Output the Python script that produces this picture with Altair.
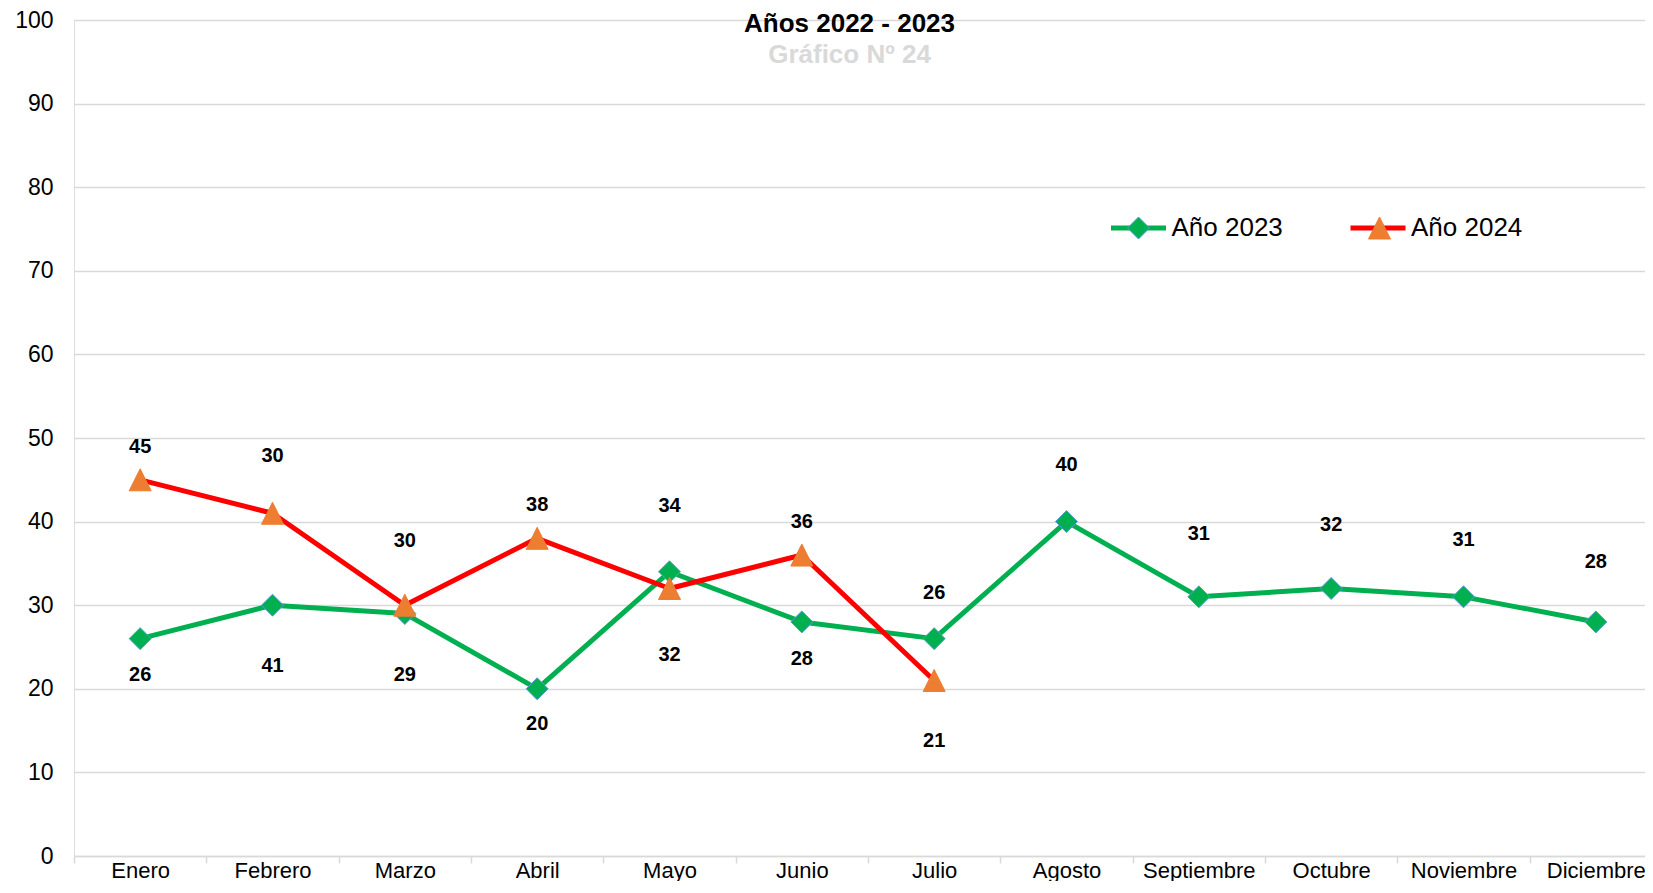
import altair as alt
import pandas as pd

months = ["Enero", "Febrero", "Marzo", "Abril", "Mayo", "Junio", "Julio",
          "Agosto", "Septiembre", "Octubre", "Noviembre", "Diciembre"]
series_names = ["Año 2023", "Año 2024"]
v2023 = [26, 30, 29, 20, 34, 28, 26, 40, 31, 32, 31, 28]
v2024 = [45, 41, 30, 38, 32, 36, 21]

# data labels as they appear in the chart (text and vertical anchor in data units)
label_months = ["Enero", "Enero", "Febrero", "Febrero", "Marzo", "Marzo",
                "Abril", "Abril", "Mayo", "Mayo", "Junio", "Junio",
                "Julio", "Julio", "Agosto", "Septiembre", "Octubre",
                "Noviembre", "Diciembre"]
label_texts = ["45", "26", "30", "41", "30", "29", "38", "20", "34", "32",
               "36", "28", "26", "21", "40", "31", "32", "31", "28"]
label_pos = [48.9, 21.7, 47.8, 22.7, 37.7, 21.7, 42.0, 15.8, 41.9, 24.1,
             40.0, 23.6, 31.5, 13.7, 46.8, 38.5, 39.6, 37.8, 35.2]

rows = []
for m, v in zip(months, v2023):
    rows.append({"month": m, "series": series_names[0], "value": v})
for m, v in zip(months, v2024):
    rows.append({"month": m, "series": series_names[1], "value": v})
df = pd.DataFrame(rows)
df["serie"] = df["series"]

lab = pd.DataFrame({"month": label_months, "text": label_texts, "pos": label_pos})

FONT = "Liberation Sans"
GREEN = "#00B050"
RED = "#FF0000"
ORANGE = "#ED7D31"
BLUE = "#5B9BD5"
GRID = "#D9D9D9"
TRI = "M0,-1L1,1L-1,1Z"

xscale = alt.Scale(type="band", domain=months, paddingInner=0, paddingOuter=0,
                   range=[0, 1588])
x_enc = alt.X("month:N", sort=months, scale=xscale,
              axis=alt.Axis(title=None, labelFontSize=22, labelFont=FONT,
                            labelColor="black", labelAngle=0, tickBand="extent",
                            tickSize=7, tickColor=GRID, tickWidth=1.5,
                            domainColor=GRID, domainWidth=1.5, labelPadding=-3,
                            grid=False, labelOverlap=False))
yscale = alt.Scale(domain=[0, 100], nice=False)
y_axis = alt.Axis(title=None, values=list(range(0, 101, 10)), labelFontSize=23,
                  labelFont=FONT, labelColor="black", labelPadding=21,
                  ticks=False, domain=False, grid=True, gridColor=GRID,
                  gridWidth=1.5)

legA = alt.Legend(title=None, orient="none", legendX=1034.5, legendY=178,
                  direction="horizontal", symbolType="stroke", symbolSize=3025,
                  symbolStrokeWidth=5, labelFontSize=26, labelFont=FONT,
                  labelColor="black", labelOffset=3, columnPadding=56.5, padding=0)
legB = alt.Legend(title=None, orient="none", legendX=1051.5, legendY=195,
                  direction="horizontal", symbolSize=484, symbolStrokeWidth=1,
                  labelFontSize=26, labelFont=FONT, labelExpr="''",
                  labelOffset=0, columnPadding=215, padding=0)

line = alt.Chart(df).mark_line(strokeWidth=5, strokeJoin="round").encode(
    x=x_enc,
    y=alt.Y("value:Q", scale=yscale, axis=y_axis),
    color=alt.Color("serie:N", scale=alt.Scale(range=[GREEN, RED]), legend=legA),
)

points = alt.Chart(df).mark_point(filled=True, size=484, strokeWidth=1, opacity=1).encode(
    x=x_enc,
    y=alt.Y("value:Q", scale=yscale, axis=y_axis),
    fill=alt.Fill("series:N", scale=alt.Scale(range=[GREEN, ORANGE]), legend=legB),
    stroke=alt.Stroke("series:N", scale=alt.Scale(range=[BLUE, ORANGE]), legend=legB),
    shape=alt.Shape("series:N", scale=alt.Scale(range=["diamond", TRI]), legend=legB),
)

texts = alt.Chart(lab).mark_text(fontSize=20, fontWeight="bold", font=FONT,
                                 color="black", baseline="middle").encode(
    x=x_enc,
    y=alt.Y("pos:Q", scale=yscale, axis=y_axis),
    text="text:N",
)

title = alt.TitleParams(text="Años 2022 - 2023", subtitle="Gráfico Nº 24",
                        fontSize=26, font=FONT, fontWeight="bold", color="black",
                        subtitleFontSize=26, subtitleFont=FONT,
                        subtitleFontWeight="bold", subtitleColor=GRID,
                        anchor="middle", dx=-10, offset=-59, subtitlePadding=5)

chart = alt.layer(line, points, texts).properties(
    width=1571, height=836, title=title,
    autosize=alt.AutoSizeParams(type="none"),
    padding={"left": 66, "top": 12, "right": 0, "bottom": 25},
).configure_view(stroke=None).configure(background="white")

chart.save("out.html", embed_options={"renderer": "svg", "actions": False})
